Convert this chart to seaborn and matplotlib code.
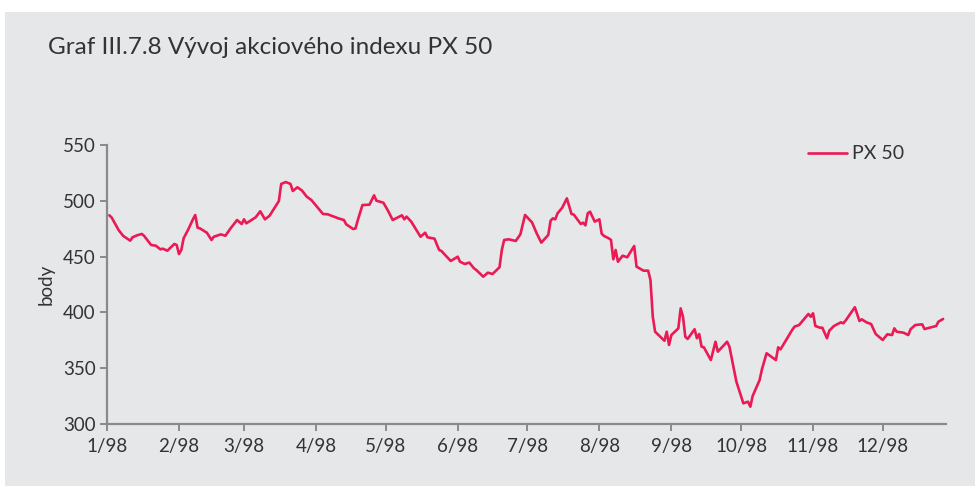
import matplotlib
matplotlib.use("Agg")
import matplotlib.pyplot as plt
import matplotlib.dates as mdates
from matplotlib.ticker import FuncFormatter
import seaborn as sns
import pandas as pd

# PX 50 index, 1998
dates = [
    "1998-01-02", "1998-01-03", "1998-01-04", "1998-01-06", "1998-01-08", "1998-01-11", "1998-01-12",
    "1998-01-14", "1998-01-16", "1998-01-17", "1998-01-20", "1998-01-22", "1998-01-24", "1998-01-25",
    "1998-01-27", "1998-01-30", "1998-01-31",
    "1998-02-01", "1998-02-02", "1998-02-03", "1998-02-05", "1998-02-07", "1998-02-08", "1998-02-09",
    "1998-02-10", "1998-02-13", "1998-02-15", "1998-02-16", "1998-02-19", "1998-02-21", "1998-02-23",
    "1998-02-26", "1998-02-28",
    "1998-03-01", "1998-03-02", "1998-03-06", "1998-03-08", "1998-03-10", "1998-03-12", "1998-03-16",
    "1998-03-17", "1998-03-19", "1998-03-21", "1998-03-22", "1998-03-24", "1998-03-26", "1998-03-28",
    "1998-03-30",
    "1998-04-04", "1998-04-06", "1998-04-11", "1998-04-13", "1998-04-14", "1998-04-17", "1998-04-18",
    "1998-04-19", "1998-04-21", "1998-04-24", "1998-04-26", "1998-04-27", "1998-04-30",
    "1998-05-02", "1998-05-04", "1998-05-08", "1998-05-09", "1998-05-10", "1998-05-12", "1998-05-16",
    "1998-05-18", "1998-05-19", "1998-05-22", "1998-05-24", "1998-05-25", "1998-05-29",
    "1998-06-01", "1998-06-02", "1998-06-04", "1998-06-06", "1998-06-08", "1998-06-09", "1998-06-12",
    "1998-06-14", "1998-06-16", "1998-06-19", "1998-06-20", "1998-06-21", "1998-06-23", "1998-06-26",
    "1998-06-28", "1998-06-30",
    "1998-07-03", "1998-07-05", "1998-07-07", "1998-07-10", "1998-07-11", "1998-07-12", "1998-07-13",
    "1998-07-14", "1998-07-16", "1998-07-18", "1998-07-20", "1998-07-21", "1998-07-24", "1998-07-25",
    "1998-07-26", "1998-07-27", "1998-07-28", "1998-07-30",
    "1998-08-01", "1998-08-02", "1998-08-03", "1998-08-05", "1998-08-06", "1998-08-07", "1998-08-08",
    "1998-08-09", "1998-08-11", "1998-08-13", "1998-08-16", "1998-08-17", "1998-08-20", "1998-08-22",
    "1998-08-23", "1998-08-24", "1998-08-25", "1998-08-29", "1998-08-30", "1998-08-31",
    "1998-09-01", "1998-09-04", "1998-09-05", "1998-09-06", "1998-09-07", "1998-09-08", "1998-09-11",
    "1998-09-12", "1998-09-13", "1998-09-14", "1998-09-15", "1998-09-18", "1998-09-20", "1998-09-21",
    "1998-09-25", "1998-09-26", "1998-09-29",
    "1998-10-02", "1998-10-04", "1998-10-05", "1998-10-06", "1998-10-09", "1998-10-10", "1998-10-12",
    "1998-10-16", "1998-10-17", "1998-10-18", "1998-10-23", "1998-10-24", "1998-10-26", "1998-10-30",
    "1998-10-31",
    "1998-11-01", "1998-11-02", "1998-11-04", "1998-11-05", "1998-11-07", "1998-11-08", "1998-11-10",
    "1998-11-13", "1998-11-14", "1998-11-15", "1998-11-17", "1998-11-19", "1998-11-21", "1998-11-22",
    "1998-11-24", "1998-11-26", "1998-11-28",
    "1998-12-01", "1998-12-03", "1998-12-05", "1998-12-06", "1998-12-07", "1998-12-10", "1998-12-12",
    "1998-12-13", "1998-12-15", "1998-12-18", "1998-12-19", "1998-12-24", "1998-12-25", "1998-12-27",
]
px50 = [
    487.0, 485.0, 481.3, 473.8, 468.5, 464.3, 467.3,
    469.1, 470.3, 468.5, 460.4, 459.8, 456.5, 457.1,
    455.3, 461.3, 460.4,
    452.3, 455.9, 466.4, 474.4, 483.4, 487.3, 475.9,
    475.3, 471.4, 464.9, 467.8, 469.9, 468.7, 474.7,
    482.8, 479.2,
    483.4, 479.8, 485.2, 490.6, 483.4, 486.6, 499.8,
    515.1, 516.8, 515.1, 508.8, 512.1, 509.1, 503.7,
    500.7,
    488.2, 487.9, 484.0, 482.8, 478.9, 474.7, 475.3,
    482.8, 496.2, 496.5, 504.9, 500.1, 498.3,
    491.1, 482.8, 487.0, 483.4, 485.8, 481.3, 467.8,
    471.4, 467.3, 466.1, 456.0, 455.0, 446.1,
    449.9, 445.4, 443.4, 444.6, 439.5, 438.0, 432.0,
    435.6, 434.4, 440.4, 455.9, 464.9, 465.5, 464.0,
    470.0, 487.3,
    480.7, 470.9, 462.5, 469.4, 482.2, 484.3, 483.4,
    488.8, 493.8, 502.2, 488.2, 487.6, 479.2, 480.4,
    478.0, 488.8, 490.2, 481.3,
    483.4, 470.5, 468.5, 466.4, 465.0, 447.6, 455.9,
    445.4, 450.8, 449.4, 459.5, 441.0, 437.4, 437.4,
    429.0, 396.1, 382.7, 374.6, 382.7, 370.8,
    379.7, 385.7, 403.6, 396.1, 378.2, 376.2, 384.9,
    376.8, 380.6, 369.3, 368.7, 357.3, 373.7, 364.8,
    373.7, 369.3, 337.9,
    318.5, 320.0, 315.5, 325.1, 339.4, 349.0, 363.4,
    357.3, 368.7, 366.9, 384.2, 387.2, 388.7, 398.6,
    396.1,
    399.2, 387.8, 386.3, 386.3, 376.8, 383.6, 387.8,
    391.1, 390.2, 392.6, 398.6, 404.6, 392.3, 393.8,
    391.1, 389.6, 380.6,
    375.3, 380.4, 379.7, 385.7, 382.7, 381.8, 379.7,
    384.9, 388.7, 389.3, 385.1, 387.8, 391.7, 394.1,
]
series_name = "PX 50"
y_ticks = [300, 350, 400, 450, 500, 550]

df = pd.DataFrame({"date": pd.to_datetime(dates), "value": px50})

sns.set_style("white")
plt.rcParams["font.family"] = ["Lato", "DejaVu Sans"]

bg = "#e6e7e8"
line_color = "#ea1a55"
spine_color = "#8a8a8a"
text_color = "#333333"

fig = plt.figure(figsize=(9.75, 4.92), dpi=100)
fig.patch.set_facecolor("white")
fig.patches.append(plt.Rectangle((5 / 975, 6 / 492), 1 - 5 / 975, 1 - 18 / 492,
                                 transform=fig.transFigure, facecolor=bg,
                                 edgecolor="none", zorder=-10))

ax = fig.add_axes([107 / 975, 1 - 424 / 492, (946 - 107) / 975, (424 - 145) / 492])
ax.set_facecolor(bg)

sns.lineplot(data=df, x="date", y="value", ax=ax, color=line_color,
             linewidth=1.9, label=series_name)

ax.set_ylim(300, 550)
ax.set_yticks(y_ticks)
ax.set_xlim(pd.Timestamp("1998-01-01"), pd.Timestamp("1998-12-28 06:00"))
ax.xaxis.set_major_locator(mdates.MonthLocator())
ax.xaxis.set_major_formatter(FuncFormatter(
    lambda v, pos: f"{mdates.num2date(v).month}/{mdates.num2date(v).strftime('%y')}"))

for side in ["top", "right"]:
    ax.spines[side].set_visible(False)
for side in ["left", "bottom"]:
    ax.spines[side].set_color(spine_color)
    ax.spines[side].set_linewidth(1.6)

ax.tick_params(axis="both", which="major", direction="out", length=5, width=1.4,
               color=spine_color, labelsize=13.5, labelcolor=text_color, pad=3)
ax.tick_params(axis="y", left=True)
ax.tick_params(axis="x", bottom=True, pad=5)

ax.set_xlabel("")
ax.set_ylabel("body", fontsize=13.5, color=text_color, labelpad=6)

leg = ax.legend(loc="center left", bbox_to_anchor=(0.815, 0.968), frameon=False,
                fontsize=14, handlelength=2.0, handletextpad=0.25)
for t in leg.get_texts():
    t.set_color(text_color)

fig.text(48 / 975, 1 - 48 / 492, "Graf III.7.8 Vývoj akciového indexu PX 50",
         fontsize=17.5, color=text_color, va="center", ha="left")

fig.savefig("out.png", dpi=100, facecolor=fig.get_facecolor())
